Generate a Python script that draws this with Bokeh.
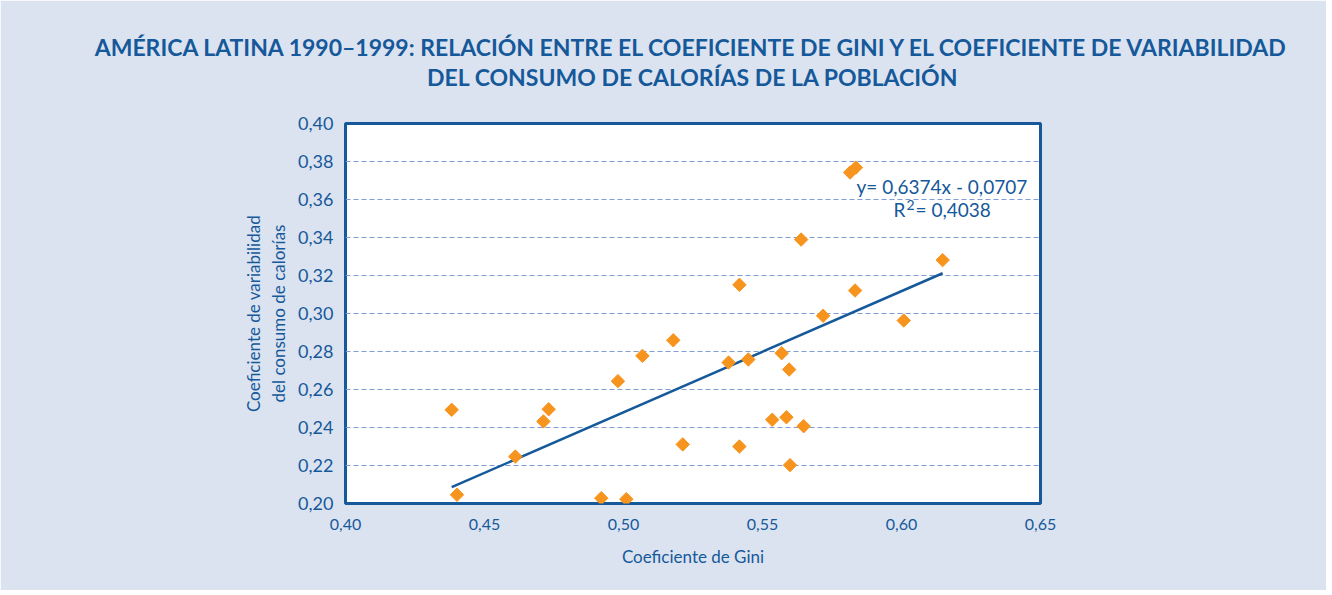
from math import pi
from bokeh.plotting import figure
from bokeh.models import (Range1d, Label, FixedTicker, CustomJSTickFormatter,
                          LinearAxis)
from bokeh.embed import file_html
from bokeh.resources import INLINE

# ---------------- data ----------------
gini = [0.4382, 0.4401, 0.4611, 0.4712, 0.4731, 0.4920, 0.5010, 0.4980,
        0.5068, 0.5179, 0.5213, 0.5378, 0.5417, 0.5417, 0.5449, 0.5535,
        0.5569, 0.5586, 0.5596, 0.5599, 0.5639, 0.5648, 0.5718, 0.5815,
        0.5836, 0.5833, 0.6008, 0.6148]
cv_calorias = [0.2493, 0.2046, 0.2247, 0.2432, 0.2496, 0.2028, 0.2023, 0.2644,
               0.2777, 0.2859, 0.2311, 0.2742, 0.3151, 0.2300, 0.2758, 0.2441,
               0.2791, 0.2454, 0.2705, 0.2202, 0.3389, 0.2407, 0.2988, 0.3742,
               0.3768, 0.3121, 0.2963, 0.3281]
slope = 0.6374
intercept = -0.0707
r_squared = "0,4038"
x_ticks = [0.40, 0.45, 0.50, 0.55, 0.60, 0.65]
y_ticks = [0.20, 0.22, 0.24, 0.26, 0.28, 0.30, 0.32, 0.34, 0.36, 0.38, 0.40]
title_1 = "AMÉRICA LATINA 1990–1999: RELACIÓN ENTRE EL COEFICIENTE DE GINI Y EL COEFICIENTE DE VARIABILIDAD"
title_2 = "DEL CONSUMO DE CALORÍAS DE LA POBLACIÓN"
x_label = "Coeficiente de Gini"
y_label = "Coeficiente de variabilidad\ndel consumo de calorías"
eq_text = "y= 0,6374x - 0,0707"

# ---------------- style ----------------
BLUE = "#15599A"
ORANGE = "#F7941D"
PANEL = "#DCE3F0"
FONT = "Lato"

X0, X1 = 0.40, 0.65
Y0, Y1 = 0.20, 0.40
FW, FH = 695, 380
BL, BT, BR, BB = 345, 123, 286, 87

p = figure(width=BL + FW + BR, height=BT + FH + BB,
           frame_width=FW, frame_height=FH,
           x_range=Range1d(X0, X1), y_range=Range1d(Y0, Y1),
           output_backend="svg", toolbar_location=None,
           min_border_left=BL, min_border_right=BR,
           min_border_top=BT, min_border_bottom=BB)
p.border_fill_color = PANEL
p.background_fill_color = "white"
p.outline_line_color = BLUE
p.outline_line_width = 3

fmt = CustomJSTickFormatter(code="return tick.toFixed(2).replace('.', ',');")

xa = p.below[0]
xa.ticker = FixedTicker(ticks=x_ticks)
xa.formatter = fmt
xa.axis_line_color = None
xa.major_tick_line_color = None
xa.minor_tick_line_color = None
xa.major_label_text_font = FONT
xa.major_label_text_font_size = "16px"
xa.major_label_text_color = BLUE
xa.major_label_standoff = 9
xa.axis_label = x_label
xa.axis_label_text_font = FONT
xa.axis_label_text_font_size = "17px"
xa.axis_label_text_font_style = "normal"
xa.axis_label_text_color = BLUE
xa.axis_label_standoff = 13

ya = p.left[0]
ya.ticker = FixedTicker(ticks=y_ticks)
ya.formatter = fmt
ya.axis_line_color = None
ya.major_tick_line_color = None
ya.minor_tick_line_color = None
ya.major_label_text_font = FONT
ya.major_label_text_font_size = "18px"
ya.major_label_text_color = BLUE
ya.major_label_standoff = 6
ya.axis_label = y_label
ya.axis_label_text_font = FONT
ya.axis_label_text_font_size = "17px"
ya.axis_label_text_font_style = "normal"
ya.axis_label_text_color = BLUE
ya.axis_label_standoff = 6

# two-line centred title, carried by a tick-less axis above the frame
title_axis = LinearAxis(ticker=FixedTicker(ticks=[]),
                        axis_label=title_1 + "\n" + title_2,
                        axis_line_color=None,
                        major_tick_line_color=None,
                        minor_tick_line_color=None,
                        major_label_standoff=0,
                        axis_label_standoff=33,
                        axis_label_text_font=FONT,
                        axis_label_text_font_style="bold",
                        axis_label_text_font_size="23px",
                        axis_label_text_line_height=1.05,
                        axis_label_text_color=BLUE)
p.add_layout(title_axis, "above")

p.xgrid.grid_line_color = None
p.ygrid.ticker = FixedTicker(ticks=y_ticks[1:-1])
p.ygrid.grid_line_color = "#7F9CD4"
p.ygrid.grid_line_width = 1.2
p.ygrid.grid_line_dash = "5 3"

# regression line over the data span
xs = [min(gini), max(gini)]
ys = [slope * v + intercept for v in xs]
p.line(xs, ys, line_color=BLUE, line_width=2.5)

p.scatter(gini, cv_calorias, marker="square", angle=pi / 4, size=9.5,
          fill_color=ORANGE, line_color=ORANGE)


def dx(px):
    return X0 + px * (X1 - X0) / FW


def dy(py):
    return Y1 + py * (Y1 - Y0) / FH


p.add_layout(Label(x=dx(511), y=dy(-63), text=eq_text, text_align="left",
                   text_baseline="middle", text_font=FONT,
                   text_font_size="19px", text_color=BLUE))
p.add_layout(Label(x=dx(548), y=dy(-86), text="R", text_align="left",
                   text_baseline="middle", text_font=FONT,
                   text_font_size="19px", text_color=BLUE))
p.add_layout(Label(x=dx(561), y=dy(-81), text="2", text_align="left",
                   text_baseline="middle", text_font=FONT,
                   text_font_size="14px", text_color=BLUE))
p.add_layout(Label(x=dx(570), y=dy(-86), text="= " + r_squared, text_align="left",
                   text_baseline="middle", text_font=FONT,
                   text_font_size="19px", text_color=BLUE))

open("out.html", "w").write(file_html(p, INLINE))
